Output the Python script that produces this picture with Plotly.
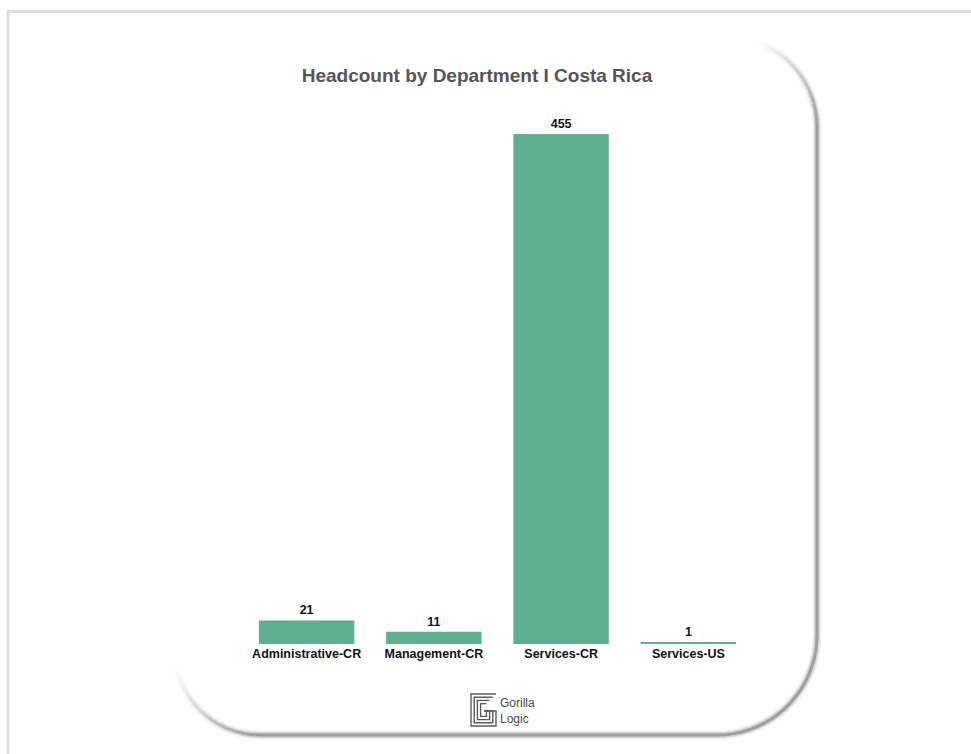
import numpy as np
import plotly.graph_objects as go

# Headcount per department
departments = ["Administrative-CR", "Management-CR", "Services-CR", "Services-US"]
headcount = [21, 11, 455, 1]

W, H = 971, 754
BAR_COLOR = "#5fae8f"
FONT = "Liberation Sans, Arial, Helvetica, sans-serif"


def px(x, y):
    """Pixel position -> paper coordinates (margins are zero)."""
    return x / W, 1 - y / H


def path_from(points):
    pts = [px(x, y) for x, y in points]
    return "M " + " L ".join(f"{a:.5f},{b:.5f}" for a, b in pts)


def arc(cx, cy, r, a0, a1, n=12):
    ang = np.radians(np.linspace(a0, a1, n))
    return [(cx + r * np.cos(a), cy - r * np.sin(a)) for a in ang]


shapes = []

# thin page frame (top and left)
for pts in ([(7, 11.5), (W, 11.5)], [(8, 11.5), (8, H)]):
    shapes.append(dict(type="path", xref="paper", yref="paper", path=path_from(pts),
                       line=dict(color="#dedede", width=3), layer="below"))

# card outline shadow: right + bottom edges, fading along the soft corners
L, R, T, B = 175, 817, 37, 735
r_tr, r_br, r_bl = 90, 100, 85

segments = []
# top-right corner, fading upward
tr = arc(R - r_tr, T + r_tr, r_tr, 0, 70, 25)
for i in range(len(tr) - 1):
    segments.append(([tr[i], tr[i + 1]], (1 - i / (len(tr) - 1)) ** 1.3))
# right edge and bottom-right corner, bottom edge
solid = [(R, T + r_tr), (R, B - r_br)] + arc(R - r_br, B - r_br, r_br, 0, -90, 20) + [(L + r_bl, B)]
segments.append((solid, 1.0))
# bottom-left corner, fading upward
bl = arc(L + r_bl, B - r_bl, r_bl, -90, -168, 25)
for i in range(len(bl) - 1):
    segments.append(([bl[i], bl[i + 1]], (1 - i / (len(bl) - 1)) ** 1.3))

for pts, op in segments:
    for width, alpha, color in ((9, 0.12, "#9a9a9a"), (6, 0.35, "#9a9a9a"), (3, 0.75, "#8e8e8e")):
        shapes.append(dict(type="path", xref="paper", yref="paper", path=path_from(pts),
                           line=dict(color=color, width=width), opacity=alpha * op,
                           layer="below"))

# logo mark: nested "G" outlines
x0, y0, x1, y1 = 471, 694, 496, 726
for k in range(4):
    d = 3.2 * k
    a0, b0, a1, b1 = x0 + d, y0 + d, x1 - d, y1 - d
    mid_y = (b0 + b1) / 2 + 1
    mid_x = (a0 + a1) / 2 + 1
    pts = [(a1, b0), (a0, b0), (a0, b1), (a1, b1), (a1, mid_y), (mid_x, mid_y)]
    shapes.append(dict(type="path", xref="paper", yref="paper", path=path_from(pts),
                       line=dict(color="#5a5a5a", width=1.4)))

fig = go.Figure(
    go.Bar(
        x=departments,
        y=headcount,
        marker=dict(color=BAR_COLOR, line=dict(width=0)),
        text=headcount,
        texttemplate="%{text}",
        textposition="outside",
        textfont=dict(family=FONT, size=12.5, color="#111111", weight="bold"),
        cliponaxis=False,
        hoverinfo="x+y",
    )
)

fig.update_layout(
    width=W,
    height=H,
    margin=dict(l=0, r=0, t=0, b=0),
    paper_bgcolor="white",
    plot_bgcolor="white",
    bargap=0.25,
    showlegend=False,
    shapes=shapes,
    title=dict(
        text="Headcount by Department I Costa Rica",
        x=477 / W, xanchor="center", xref="paper",
        y=1 - 75 / H, yanchor="middle", yref="container",
        font=dict(family=FONT, size=19, color="#555555", weight="bold"),
    ),
    xaxis=dict(
        domain=[243 / W, 752 / W],
        range=[-0.5, 3.5],
        showgrid=False, zeroline=False, showline=False, ticks="",
        tickfont=dict(family=FONT, size=12.5, color="#111111", weight="bold"),
    ),
    yaxis=dict(
        domain=[1 - 644 / H, 1 - 134 / H],
        range=[0, 455],
        visible=False,
    ),
    annotations=[
        dict(
            text="Gorilla<br>Logic", xref="paper", yref="paper",
            x=498 / W, y=1 - 711 / H, xanchor="left", yanchor="middle",
            showarrow=False, align="left",
            font=dict(family=FONT, size=12, color="#4a4a4a", weight=500),
        )
    ],
)

fig.write_html("out.html")
